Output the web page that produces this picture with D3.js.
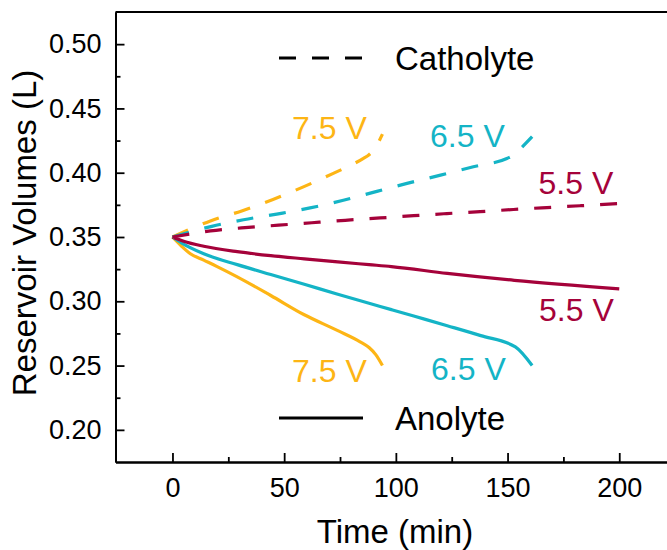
<!DOCTYPE html>
<html>
<head>
<meta charset="utf-8">
<script src="https://cdn.jsdelivr.net/npm/d3@7"></script>
<style>
  body { margin: 0; background: #fff; }
  text { font-family: "Liberation Sans", Arial, sans-serif; }
</style>
</head>
<body>
<div id="chart"></div>
<script>
// anolyte (solid) and catholyte (dashed) volumes
const ano75Time = [0, 4, 8, 14, 20, 29, 44, 59, 74, 84, 88, 91, 94]
const ano75 = [0.35, 0.343, 0.337, 0.332, 0.327, 0.319, 0.3045, 0.2895, 0.2772, 0.2685, 0.264, 0.2585, 0.25]
const ano65Time = [0, 4, 14, 29, 44, 59, 74, 88, 98, 108, 123, 138, 153.5, 161]
const ano65 = [0.35, 0.3455, 0.337, 0.3285, 0.3208, 0.3132, 0.3055, 0.2985, 0.2935, 0.2885, 0.281, 0.2733, 0.2645, 0.25]
const ano55Time = [0, 5, 14, 29, 44, 59, 74, 88, 98, 123, 153, 200]
const ano55 = [0.35, 0.3467, 0.3428, 0.3386, 0.3355, 0.333, 0.3306, 0.3285, 0.327, 0.3217, 0.3163, 0.3097]

const cat75Time = [0, 17, 31, 45, 58.6, 72, 85.5, 88, 91, 94]
const cat75 = [0.35, 0.3625, 0.3703, 0.3792, 0.389, 0.3995, 0.4112, 0.414, 0.42, 0.43]
const cat65Time = [0, 17.6, 31.8, 46.7, 61.6, 76.5, 91.5, 105, 120, 134.7, 149.7, 153, 156, 161]
const cat65 = [0.35, 0.3583, 0.3634, 0.3678, 0.3726, 0.3786, 0.3855, 0.3917, 0.3981, 0.4046, 0.4111, 0.414, 0.419, 0.428]
const cat55Time = [0, 17, 32.5, 47.5, 62.4, 77.3, 93, 108, 122.8, 137.7, 152.6, 167.6, 182.5, 200]
const cat55 = [0.35, 0.3547, 0.3573, 0.3592, 0.3611, 0.363, 0.3648, 0.3666, 0.3682, 0.3697, 0.3714, 0.3729, 0.3743, 0.376]

const xTicks = [0, 50, 100, 150, 200]
const xMinor = [25, 75, 125, 175]
const yTicks = [0.20, 0.25, 0.30, 0.35, 0.40, 0.45, 0.50]
const yMinor = [0.225, 0.275, 0.325, 0.375, 0.425, 0.475]

const orange = "#fdb515", cyan = "#14b4c6", maroon = "#a5023a"

var width = 667, height = 550
const svg = d3.select("#chart").append("svg")
    .attr("width", width)
    .attr("height", height)

var x = d3.scaleLinear().domain([-25.5, 222]).range([115.5, 668.4])
var y = d3.scaleLinear().domain([0.175, 0.525]).range([462, 12])

// minor ticks first so the domain lines sit on top
svg.append("g")
    .attr("transform", "translate(0,462)")
    .call(d3.axisBottom(x).tickValues(xMinor).tickSize(-5).tickSizeOuter(0).tickFormat(""))
svg.append("g")
    .attr("transform", "translate(115.5,0)")
    .call(d3.axisLeft(y).tickValues(yMinor).tickSize(-5).tickSizeOuter(0).tickFormat(""))

svg.append("g")
    .attr("transform", "translate(0,462)")
    .call(d3.axisBottom(x).tickValues(xTicks).tickSize(-9).tickSizeOuter(0).tickPadding(16))
svg.append("g")
    .attr("transform", "translate(115.5,0)")
    .call(d3.axisLeft(y).tickValues(yTicks).tickSize(-9).tickSizeOuter(0).tickPadding(14)
        .tickFormat(d3.format(".2f")))

svg.selectAll(".domain").attr("stroke", "#000").attr("stroke-width", 2)
svg.selectAll(".tick line").attr("stroke", "#000").attr("stroke-width", 1.8)
svg.selectAll(".tick text").attr("font-size", 27).attr("fill", "#000")
    .attr("font-family", "'Liberation Sans', Arial, sans-serif")

// top frame line
svg.append("line")
    .attr("x1", 115.5).attr("x2", 668).attr("y1", 12).attr("y2", 12)
    .attr("stroke", "#000").attr("stroke-width", 2)

svg.append("text")
    .attr("x", 395).attr("y", 543)
    .attr("text-anchor", "middle")
    .attr("font-size", 33)
    .text("Time (min)")
svg.append("text")
    .attr("transform", "translate(36,233) rotate(-90)")
    .attr("text-anchor", "middle")
    .attr("font-size", 33)
    .text("Reservoir Volumes (L)")

var line = d3.line()
    .x(d => x(d[0]))
    .y(d => y(d[1]))
    .curve(d3.curveMonotoneX)

var series = [
    { t: ano75Time, v: ano75, color: orange, dash: null },
    { t: ano65Time, v: ano65, color: cyan, dash: null },
    { t: ano55Time, v: ano55, color: maroon, dash: null },
    { t: cat75Time, v: cat75, color: orange, dash: "17,16" },
    { t: cat65Time, v: cat65, color: cyan, dash: "17,16" },
    { t: cat55Time, v: cat55, color: maroon, dash: "17,16" }
]

svg.append("g")
    .selectAll("path")
    .data(series)
    .enter()
    .append("path")
    .attr("d", s => line(s.t.map((t, i) => [t, s.v[i]])))
    .attr("fill", "none")
    .attr("stroke", s => s.color)
    .attr("stroke-width", 3.2)
    .attr("stroke-dasharray", s => s.dash)

// voltage labels
var labels = [
    { text: "7.5 V", x: 292, y: 139, color: orange },
    { text: "6.5 V", x: 430, y: 146.5, color: cyan },
    { text: "5.5 V", x: 538.5, y: 193.5, color: maroon },
    { text: "5.5 V", x: 539, y: 321, color: maroon },
    { text: "6.5 V", x: 431, y: 380, color: cyan },
    { text: "7.5 V", x: 292, y: 381.5, color: orange }
]
svg.append("g")
    .selectAll("text")
    .data(labels)
    .enter()
    .append("text")
    .attr("x", d => d.x)
    .attr("y", d => d.y)
    .attr("fill", d => d.color)
    .attr("font-size", 32)
    .text(d => d.text)

// legend
svg.append("line")
    .attr("x1", 279).attr("x2", 363).attr("y1", 58).attr("y2", 58)
    .attr("stroke", "#000").attr("stroke-width", 3).attr("stroke-dasharray", "17,16")
svg.append("text").attr("x", 395).attr("y", 70).attr("font-size", 33).text("Catholyte")
svg.append("line")
    .attr("x1", 279).attr("x2", 363).attr("y1", 418).attr("y2", 418)
    .attr("stroke", "#000").attr("stroke-width", 3)
svg.append("text").attr("x", 395).attr("y", 430).attr("font-size", 33).text("Anolyte")
</script>
</body>
</html>
